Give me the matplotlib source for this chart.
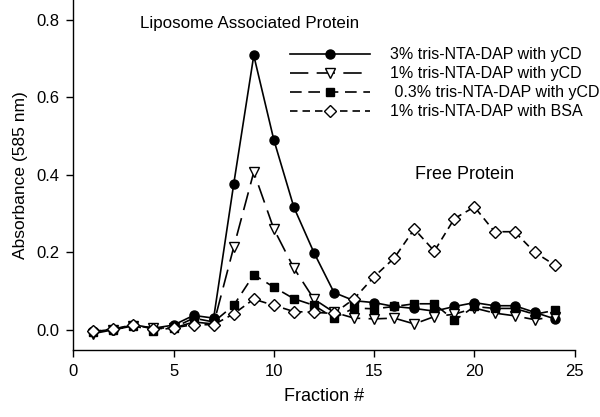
import numpy as np
import matplotlib
matplotlib.use('Agg')
import matplotlib.pyplot as plt

plt.rcParams['font.family'] = ['Liberation Sans', 'DejaVu Sans']

# Fraction numbers and absorbance readings (585 nm)
fractions = np.arange(1, 25)

tris3_ycd = [-0.004, 0.0, 0.013, 0.004, 0.012, 0.037, 0.030, 0.376, 0.708, 0.490,
             0.316, 0.199, 0.096, 0.075, 0.070, 0.060, 0.055, 0.048, 0.060, 0.070,
             0.062, 0.062, 0.045, 0.028]
tris1_ycd = [-0.010, 0.0, 0.010, 0.005, 0.004, 0.020, 0.015, 0.213, 0.407, 0.260,
             0.159, 0.079, 0.045, 0.030, 0.028, 0.030, 0.015, 0.034, 0.040, 0.056,
             0.043, 0.036, 0.026, 0.034]
tris03_ycd = [-0.005, 0.0, 0.010, -0.002, 0.005, 0.030, 0.020, 0.063, 0.142, 0.110,
              0.080, 0.063, 0.030, 0.056, 0.054, 0.060, 0.067, 0.067, 0.024, 0.060,
              0.055, 0.055, 0.040, 0.050]
tris1_bsa = [-0.004, 0.002, 0.013, 0.002, 0.005, 0.013, 0.013, 0.041, 0.079, 0.063,
             0.047, 0.045, 0.042, 0.080, 0.137, 0.185, 0.260, 0.203, 0.287, 0.317,
             0.253, 0.253, 0.200, 0.167]

labels = ['3% tris-NTA-DAP with yCD', '1% tris-NTA-DAP with yCD',
          ' 0.3% tris-NTA-DAP with yCD', '1% tris-NTA-DAP with BSA']

fig = plt.figure(figsize=(6, 4.17), dpi=100)
ax = fig.add_axes([0.122, 0.16, 0.836, 0.839])

lw = 1.2
ax.plot(fractions, tris3_ycd, '-', color='black', lw=lw, marker='o', ms=6.5,
        mfc='black', mec='black', label=labels[0])
ax.plot(fractions, tris1_ycd, color='black', lw=lw, dashes=(11, 5), marker='v',
        ms=7, mfc='white', mec='black', mew=1.0, label=labels[1])
ax.plot(fractions, tris03_ycd, color='black', lw=lw, dashes=(7, 4), marker='s',
        ms=6, mfc='black', mec='black', label=labels[2])
ax.plot(fractions, tris1_bsa, color='black', lw=lw, dashes=(4.5, 3), marker='D',
        ms=6, mfc='white', mec='black', mew=1.0, label=labels[3])

ax.set_xlim(0, 25)
ax.set_ylim(-0.053, 0.85)
ax.set_xticks([0, 5, 10, 15, 20, 25])
ax.set_yticks([0.0, 0.2, 0.4, 0.6, 0.8])
ax.set_yticklabels(['0.0', '0.2', '0.4', '0.6', '0.8'])
ax.spines['top'].set_visible(False)
ax.spines['right'].set_visible(False)
ax.spines['left'].set_linewidth(1.0)
ax.spines['bottom'].set_linewidth(1.0)
ax.tick_params(direction='out', length=5, width=1.0, labelsize=12, pad=5)

ax.set_xlabel('Fraction #', fontsize=13, labelpad=6)
ax.set_ylabel('Absorbance (585 nm)', fontsize=12.5, labelpad=8)
ax.yaxis.set_label_coords(-0.09, 0.5)

ax.text(3.35, 0.79, 'Liposome Associated Protein', fontsize=12.2, va='center')
ax.text(19.5, 0.40, 'Free Protein', fontsize=13, ha='center', va='center')

ax.legend(loc='upper left', bbox_to_anchor=(0.41, 0.898), frameon=False,
          fontsize=11.5, handlelength=5.0, handletextpad=1.25, labelspacing=0.25,
          borderpad=0.2)

fig.savefig('out.png', dpi=100)
